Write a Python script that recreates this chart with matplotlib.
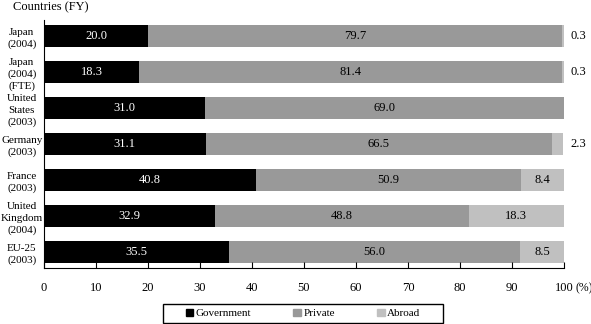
import numpy as np
import matplotlib.pyplot as plt
from matplotlib.patches import Patch, Rectangle

plt.rcParams['font.family'] = ['Liberation Serif', 'DejaVu Serif']

countries = ["Japan\n(2004)", "Japan\n(2004)\n(FTE)", "United\nStates\n(2003)",
             "Germany\n(2003)", "France\n(2003)", "United\nKingdom\n(2004)", "EU-25\n(2003)"]
government = [20.0, 18.3, 31.0, 31.1, 40.8, 32.9, 35.5]
private = [79.7, 81.4, 69.0, 66.5, 50.9, 48.8, 56.0]
abroad = [0.3, 0.3, 0.0, 2.3, 8.4, 18.3, 8.5]
xticks = [0, 10, 20, 30, 40, 50, 60, 70, 80, 90, 100]

c_gov = "#000000"
c_priv = "#999999"
c_abr = "#c0c0c0"

fig = plt.figure(figsize=(5.91, 3.24), dpi=100)
ax = fig.add_axes([44/591, 1-268/324, 520/591, 248/324])

y = np.arange(len(countries))
gov = np.array(government)
priv = np.array(private)
abr = np.array(abroad)
h = 22/36

ax.barh(y, gov, height=h, color=c_gov)
ax.barh(y, priv, left=gov, height=h, color=c_priv)
ax.barh(y, abr, left=gov+priv, height=h, color=c_abr)

for i in range(len(countries)):
    ax.text(gov[i]/2, y[i], f"{gov[i]:.1f}", color="white", ha="center", va="center", fontsize=9)
    ax.text(gov[i]+priv[i]/2, y[i], f"{priv[i]:.1f}", color="black", ha="center", va="center", fontsize=9)
    if abr[i] <= 0:
        continue
    if abr[i] > 5:
        ax.text(gov[i]+priv[i]+abr[i]/2, y[i], f"{abr[i]:.1f}", ha="center", va="center", fontsize=9)
    else:
        ax.text(101.2, y[i], f"{abr[i]:.1f}", ha="left", va="center", fontsize=9)

ax.set_xlim(0, 100)
ax.set_ylim(6 + 16/36, -16/36)
ax.set_xticks(xticks)
ax.set_xticklabels([str(t) for t in xticks], fontsize=9)
ax.tick_params(axis='x', direction='in', length=4, pad=10, color='black')
ax.set_yticks(y)
ax.set_yticklabels(countries, fontsize=8, linespacing=1.35)
for lab in ax.get_yticklabels():
    lab.set_horizontalalignment('center')
ax.tick_params(axis='y', length=0, pad=16)
ax.spines['top'].set_visible(False)
ax.spines['right'].set_visible(False)
ax.annotate("(%)", xy=(1, 0), xycoords='axes fraction', xytext=(8, -10),
            textcoords='offset points', ha='left', va='top', fontsize=8.5)

fig.text(13/591, 1-7/324, "Countries (FY)", ha="left", va="center", fontsize=9)

handles = [Patch(color=c_gov), Patch(color=c_priv), Patch(color=c_abr)]
fig.legend(handles, ["Government", "Private", "Abroad"], ncol=3, loc="center",
           bbox_to_anchor=(303/591, 1-313.5/324), frameon=False, fontsize=8,
           handlelength=0.7, handleheight=0.7, handletextpad=0.2, columnspacing=3.8)
fig.patches.append(Rectangle((163/591, 1-323/324), 280/591, 19/324, transform=fig.transFigure,
                             fill=False, edgecolor="black", linewidth=1))

fig.savefig("out.png", dpi=100)
